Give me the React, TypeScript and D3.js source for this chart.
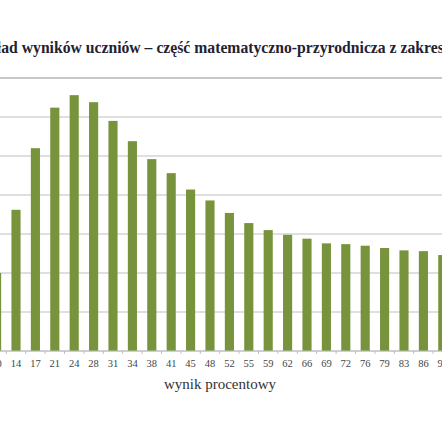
import React from "react";
import * as d3 from "d3";

const categories = ["10","14","17","21","24","28","31","34","38","41","45","48","52","55","59","62","66","69","72","76","79","83","86","90"];
const values = [1.0,1.81,2.6,3.12,3.28,3.19,2.95,2.69,2.46,2.28,2.07,1.93,1.77,1.64,1.55,1.49,1.44,1.38,1.37,1.35,1.32,1.29,1.28,1.23];
const yTicks = [0,0.5,1,1.5,2,2.5,3,3.5];
const title = "Rozkład wyników uczniów – część matematyczno-przyrodnicza z zakresu przedmiotów przyrodniczych";
const xTitle = "wynik procentowy";

export default function App() {
  const W = 442, H = 442;
  const step = 19.4;
  const x0 = 16 - 1.5 * step;
  const x = d3.scaleBand<string>().domain(categories).range([x0, x0 + categories.length * step]).paddingInner(0.53).paddingOuter(0.265);
  const y = d3.scaleLinear().domain([0, 3.5]).range([351, 78]);
  const serif = "'Liberation Serif', 'DejaVu Serif', serif";
  return (
    <svg width={W} height={H} style={{ position: "absolute", left: 0, top: 0, background: "#fff" }}>
      <text x={-38} y={53} fontFamily={serif} fontWeight="bold" fontSize={15.7} fill="#1f2233">{title}</text>
      {yTicks.map(t => (
        <line key={t} x1={0} x2={W} y1={y(t)} y2={y(t)} stroke={t === 3.5 ? "#c8c8c8" : "#d4d4d4"} strokeWidth={t === 3.5 ? 2 : 1.5} />
      ))}
      {categories.map((c, i) => (
        <rect key={c} x={x(c)} y={y(values[i])} width={x.bandwidth()} height={y(0) - y(values[i])} fill="#77933c" />
      ))}
      <line x1={0} x2={W} y1={y(0)} y2={y(0)} stroke="#bfbfbf" strokeWidth={1.2} />
      {categories.map((c, i) => {
        const bx = (x(c) as number) - (x.step() - x.bandwidth()) / 2;
        return <line key={"t" + c} x1={bx} x2={bx} y1={y(0)} y2={y(0) + 3} stroke="#bfbfbf" strokeWidth={1} />;
      })}
      {categories.map(c => (
        <text key={"l" + c} x={(x(c) as number) + x.bandwidth() / 2} y={367} textAnchor="middle" fontFamily={serif} fontSize={10.5} fill="#444">{c}</text>
      ))}
      <text x={220} y={389} textAnchor="middle" fontFamily={serif} fontSize={15} fill="#333">{xTitle}</text>
    </svg>
  );
}
